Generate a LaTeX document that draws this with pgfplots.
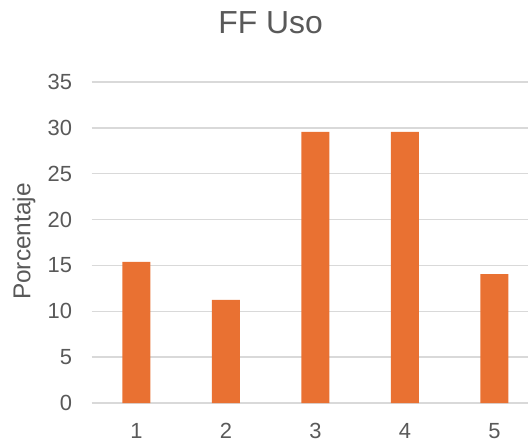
\documentclass[border=0pt]{standalone}
\usepackage{fontspec}
\setmainfont{Liberation Sans}
\usepackage{pgfplots}
\pgfplotsset{compat=1.18}
\definecolor{barorange}{HTML}{E97132}
\definecolor{gridgray}{HTML}{D9D9D9}
\definecolor{textgray}{HTML}{595959}
\begin{document}
\begin{tikzpicture}
\begin{axis}[
    scale only axis,
    width=436.4bp, height=321bp,
    at={(0,0)}, anchor=south west,
    ymin=0, ymax=35,
    xmin=0.5, xmax=5.376,
    ytick={0,5,...,35},
    xtick={1,2,3,4,5},
    ymajorgrids,
    grid style={gridgray, line width=1.3bp},
    axis line style={draw=none},
    major tick length=0,
    /pgf/number format/assume math mode=true,
    tick label style={font=\fontsize{22}{22}\selectfont, text=textgray},
    yticklabel style={anchor=east, xshift=-16bp},
    xticklabel style={anchor=base, yshift=-35.5bp},
    ylabel={Porcentaje},
    ylabel style={at={(axis description cs:-0.155,0.503)}, anchor=center, rotate=0, font=\fontsize{24.5}{24.5}\selectfont, text=textgray},
    title={FF Uso},
    title style={at={(axis description cs:0.41,1)}, anchor=base, yshift=43bp, font=\fontsize{32}{32}\selectfont, text=textgray},
    clip=false,
]
\addplot[ybar, bar width=28bp, fill=barorange, draw=none]
coordinates {(1,15.4) (2,11.25) (3,29.55) (4,29.55) (5,14.05)};
\end{axis}
\pgfresetboundingbox
\useasboundingbox (-91.6bp,-39bp) rectangle (436.4bp,403bp);
\end{tikzpicture}
\end{document}
